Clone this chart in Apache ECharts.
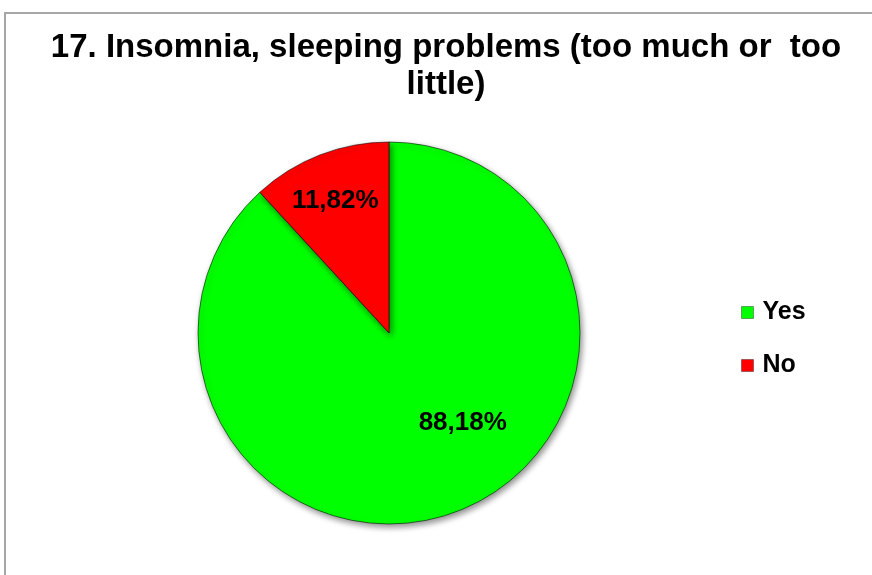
<!DOCTYPE html>
<html>
<head>
<meta charset="utf-8">
<script src="https://cdn.jsdelivr.net/npm/echarts@6/dist/echarts.min.js"></script>
<style>
  html, body { margin: 0; padding: 0; background: #fff; overflow: hidden; }
  #frame { position: absolute; left: 4px; top: 12px; width: 1000px; height: 700px;
           border-top: 2px solid #a6a6a6; border-left: 2px solid #a6a6a6; }
  #ech { position: absolute; left: 0; top: 0; width: 872px; height: 575px; }
</style>
</head>
<body>
<div id="frame"></div>
<div id="ech"></div>
<script>
var categories = ["Yes", "No"];
var values = [88.18, 11.82];
var colors = ["#00ff00", "#ff0000"];
var labelOffsets = [[38, -2], [-18, -40]];

var myChart = echarts.init(document.getElementById("ech"));

var data = categories.map(function (name, i) {
  return {
    name: name,
    value: values[i],
    itemStyle: { color: colors[i] },
    label: { offset: labelOffsets[i] }
  };
});

var option = {
  animation: false,
  title: {
    text: "17. Insomnia, sleeping problems (too much or  too\nlittle)",
    left: 441,
    top: 24,
    textAlign: "center",
    textStyle: {
      fontFamily: "Liberation Sans",
      fontWeight: "bold",
      fontSize: 33,
      lineHeight: 37,
      color: "#000"
    }
  },
  legend: {
    orient: "vertical",
    left: 736,
    top: 295,
    itemWidth: 12,
    itemHeight: 12,
    itemGap: 28,
    icon: "rect",
    data: categories,
    itemStyle: {
      borderColor: "rgba(0,0,0,0.35)",
      borderWidth: 1
    },
    textStyle: {
      fontFamily: "Liberation Sans",
      fontWeight: "bold",
      fontSize: 25,
      color: "#000",
      padding: [0, 0, 0, 4]
    }
  },
  series: [
    {
      type: "pie",
      center: [389, 333],
      radius: 191,
      startAngle: 90,
      clockwise: true,
      data: data,
      itemStyle: {
        borderColor: "rgba(0,0,0,0.55)",
        borderWidth: 1,
        shadowBlur: 6,
        shadowOffsetX: 2,
        shadowOffsetY: 3,
        shadowColor: "rgba(0,0,0,0.45)"
      },
      label: {
        position: "inside",
        formatter: function (p) {
          return p.value.toFixed(2).replace(".", ",") + "%";
        },
        fontFamily: "Liberation Sans",
        fontWeight: "bold",
        fontSize: 26,
        color: "#000"
      },
      emphasis: { disabled: true }
    }
  ]
};

myChart.setOption(option);
</script>
</body>
</html>
